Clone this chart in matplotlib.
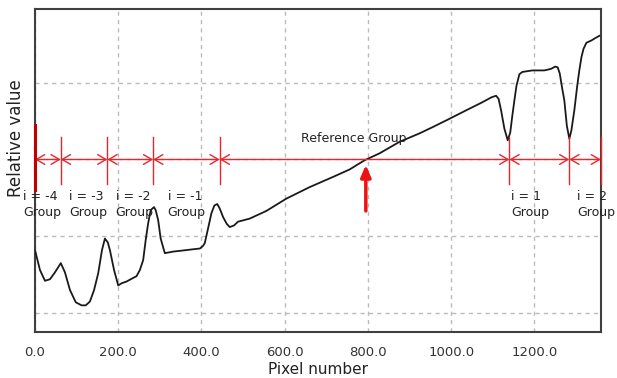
import matplotlib
matplotlib.use("Agg")
import matplotlib.pyplot as plt

# spectrum trace (pixel number, relative value)
pixel = [0, 12, 24, 36, 48, 62, 72, 84, 98, 112, 122, 132, 142, 152, 161, 168,
         175, 180, 190, 200, 209, 220, 230, 244, 252, 260, 266, 272, 278, 286,
         290, 296, 302, 312, 322, 332, 348, 364, 379, 396, 403, 408, 415, 424,
         431, 438, 444, 452, 461, 468, 478, 488, 516, 556, 604, 660, 715, 756,
         792, 828, 876, 924, 955, 996, 1036, 1073, 1097, 1108, 1114, 1120, 1128,
         1136, 1142, 1147, 1152, 1157, 1164, 1171, 1183, 1195, 1224, 1240, 1250,
         1256, 1261, 1267, 1272, 1278, 1284, 1289, 1296, 1303, 1308, 1313, 1318,
         1325, 1337, 1346, 1356]
value = [0.82, 0.56, 0.42, 0.44, 0.53, 0.65, 0.53, 0.30, 0.14, 0.10, 0.10, 0.15,
         0.30, 0.52, 0.82, 0.97, 0.92, 0.82, 0.56, 0.36, 0.39, 0.41, 0.44, 0.48,
         0.56, 0.69, 0.95, 1.17, 1.34, 1.38, 1.34, 1.21, 0.97, 0.78, 0.79, 0.80,
         0.81, 0.82, 0.83, 0.84, 0.87, 0.91, 1.08, 1.30, 1.40, 1.42, 1.36, 1.25,
         1.16, 1.12, 1.14, 1.19, 1.23, 1.33, 1.49, 1.64, 1.77, 1.87, 1.99, 2.08,
         2.23, 2.34, 2.42, 2.53, 2.64, 2.74, 2.81, 2.83, 2.79, 2.64, 2.40, 2.25,
         2.35, 2.57, 2.77, 2.96, 3.11, 3.14, 3.15, 3.16, 3.16, 3.18, 3.21, 3.20,
         3.12, 2.92, 2.77, 2.44, 2.27, 2.38, 2.64, 2.96, 3.16, 3.33, 3.44, 3.52,
         3.55, 3.58, 3.61]

# group boundaries along the pixel axis
bounds = [0, 62, 174, 284, 444, 1140, 1284, 1360]
group_names = ["i = -4", "i = -3", "i = -2", "i = -1", "i = 1", "i = 2"]
group_x = [-29, 82, 194, 319, 1145, 1303]
ref_label = "Reference Group"
ref_x = 795

xticks = [0, 200, 400, 600, 800, 1000, 1200]

red = "#e8262b"

fig = plt.figure(figsize=(6.17, 3.78), dpi=100)
ax = fig.add_axes([0.0567, 0.1217, 0.9173, 0.8545])

ax.set_xlim(0, 1360)
ax.set_ylim(-0.247, 3.96)
ax.set_xticks(xticks)
ax.set_xticklabels([f"{t:.1f}" for t in xticks])
ax.set_yticks([0, 1, 2, 3])
ax.set_yticklabels([])
ax.tick_params(axis="both", length=0)
ax.tick_params(axis="x", pad=10, labelsize=9.5, labelcolor="#333333")
ax.grid(True, color="#bbbbbb", linestyle=(0, (3, 3)), linewidth=1)
ax.set_axisbelow(True)
for s in ax.spines.values():
    s.set_color("#404040")
    s.set_linewidth(1.5)

ax.plot(pixel, value, color="#1a1a1a", lw=1.3, zorder=3)

# group boundary markers and arrows
line_y = 2.0
for i, b in enumerate(bounds):
    if i == 0:
        ax.plot([b, b], [1.60, 2.45], color="#c00000", lw=2.2, zorder=5, clip_on=False)
    else:
        ax.plot([b, b], [1.675, 2.29], color=red, lw=1, zorder=4, clip_on=False)
for a, b in zip(bounds[:-1], bounds[1:]):
    ax.annotate("", xy=(b, line_y), xytext=(a, line_y),
                arrowprops=dict(arrowstyle="<->,head_length=0.6,head_width=0.35",
                                color=red, lw=1, shrinkA=0, shrinkB=0,
                                mutation_scale=10), zorder=4)

for name, gx in zip(group_names, group_x):
    ax.text(gx, 1.60, name + "\nGroup", ha="left", va="top", fontsize=9,
            color="#222222", linespacing=1.3, clip_on=False, zorder=6)

ax.text(765, 2.27, ref_label, ha="center", va="center", fontsize=9, color="#222222")
ax.annotate("", xy=(ref_x, 1.93), xytext=(ref_x, 1.33),
            arrowprops=dict(arrowstyle="-|>,head_length=0.7,head_width=0.3",
                            color="#ee1111", lw=2.5, shrinkA=0, shrinkB=0,
                            mutation_scale=10), zorder=5)

ax.set_xlabel("Pixel number", fontsize=11, color="#222222")
ax.xaxis.set_label_coords(0.5, -0.093)
ax.xaxis.label.set_va("top")
ax.set_ylabel("Relative value", fontsize=12, color="#222222")
ax.yaxis.set_label_coords(-0.018, 0.60)

fig.savefig("out.png", dpi=100)
